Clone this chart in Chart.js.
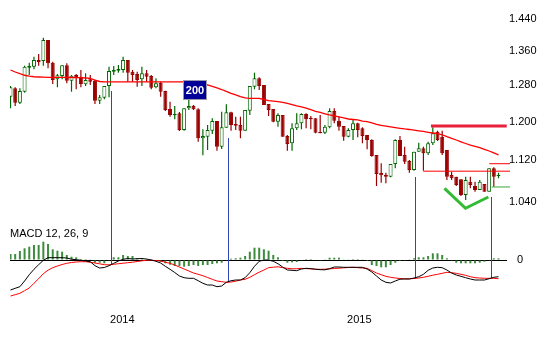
<!DOCTYPE html>
<html><head><meta charset="utf-8">
<script src="https://cdn.jsdelivr.net/npm/chart.js@4.4.1/dist/chart.umd.min.js"></script>
<style>html,body{margin:0;padding:0;background:#fff}canvas{display:block}</style>
</head><body>
<canvas id="c" width="540" height="360"></canvas>
<script>
// ---- data (weekly candles, index 0..104) ----
const open = [1.2546,1.2735,1.2413,1.2658,1.3211,1.3235,1.3393,1.3369,1.3879,1.3329,
 1.2941,1.3017,1.3268,1.2908,1.3040,1.3001,1.2826,1.2941,1.2908,1.2457,
 1.2523,1.2787,1.3117,1.3140,1.3157,1.3393,1.3117,1.3064,1.2941,1.3080,
 1.3017,1.2758,1.2863,1.2674,1.2274,1.2137,1.2180,1.1823,1.2289,1.2340,
 1.2267,1.1650,1.1683,1.1808,1.2014,1.1477,1.1872,1.2202,1.1950,1.1929,
 1.1808,1.2237,1.2771,1.2964,1.2810,1.2384,1.2274,1.1999,1.2144,1.1698,
 1.1547,1.1859,1.1965,1.2165,1.2085,1.2072,1.1781,1.1767,1.1880,1.2230,
 1.2021,1.1908,1.1683,1.1823,1.1965,1.1859,1.1719,1.1614,1.1309,1.0957,
 1.0913,1.0880,1.1129,1.1614,1.1309,1.1188,1.1010,1.1375,1.1444,1.1343,
 1.1547,1.1788,1.1683,1.1409,1.0913,1.0880,1.0829,1.0531,1.0783,1.0701,
 1.0625,1.0739,1.0593,1.1044,1.0893];
const high = [1.2787,1.2758,1.2735,1.3258,1.3329,1.3472,1.3537,1.3936,1.3879,1.3353,
 1.3064,1.3268,1.3315,1.3040,1.3064,1.3157,1.3080,1.3040,1.2924,1.2584,
 1.2787,1.3235,1.3251,1.3275,1.3472,1.3393,1.3157,1.3117,1.3235,1.3157,
 1.3040,1.2964,1.2885,1.2680,1.2435,1.2340,1.2209,1.2289,1.2472,1.2362,
 1.2289,1.1838,1.1929,1.2072,1.2014,1.2215,1.2377,1.2215,1.2107,1.2107,
 1.2252,1.2787,1.3094,1.2987,1.2810,1.2384,1.2274,1.2180,1.2144,1.1719,
 1.1965,1.2180,1.2180,1.2180,1.2122,1.2072,1.2144,1.1929,1.2289,1.2289,
 1.2107,1.1908,1.1859,1.2036,1.1978,1.1880,1.1719,1.1629,1.1309,1.1142,
 1.0957,1.1129,1.1629,1.1698,1.1477,1.1208,1.1375,1.1559,1.1477,1.1579,
 1.1880,1.1808,1.1808,1.1409,1.0977,1.0880,1.0829,1.0880,1.0880,1.0783,
 1.0816,1.0739,1.1044,1.1063,1.0957];
const low = [1.2289,1.2340,1.2384,1.2636,1.3040,1.3173,1.3258,1.3258,1.3197,1.2833,
 1.2758,1.2941,1.2849,1.2658,1.2712,1.2758,1.2787,1.2810,1.2384,1.2384,
 1.2488,1.2532,1.3040,1.3094,1.3094,1.2885,1.2885,1.2771,1.2787,1.2885,
 1.2712,1.2735,1.2546,1.2230,1.2107,1.2051,1.1802,1.1808,1.2252,1.2252,
 1.1579,1.1302,1.1409,1.1740,1.1395,1.1430,1.1872,1.1808,1.1823,1.1650,
 1.1808,1.2144,1.2712,1.2696,1.2362,1.2122,1.1987,1.1893,1.1683,1.1395,
 1.1395,1.1823,1.1838,1.1859,1.1838,1.1754,1.1754,1.1740,1.1859,1.1965,
 1.1808,1.1600,1.1671,1.1614,1.1671,1.1547,1.1424,1.1274,1.0701,1.0764,
 1.0752,1.0868,1.1043,1.1288,1.1129,1.0957,1.0996,1.1375,1.0996,1.1309,
 1.1512,1.1594,1.1309,1.0816,1.0816,1.0701,1.0512,1.0437,1.0657,1.0593,
 1.0625,1.0593,1.0593,1.0688,1.0849];
const close = [1.2758,1.2413,1.2674,1.3235,1.3251,1.3393,1.3346,1.3879,1.3315,1.2924,
 1.3034,1.3268,1.2908,1.3024,1.2987,1.2833,1.2924,1.2885,1.2457,1.2532,
 1.2787,1.3133,1.3157,1.3180,1.3393,1.3094,1.3040,1.2924,1.3080,1.3001,
 1.2749,1.2849,1.2658,1.2252,1.2144,1.2165,1.1823,1.2289,1.2340,1.2267,
 1.1650,1.1698,1.1823,1.2014,1.1477,1.1880,1.2202,1.1929,1.1914,1.1808,
 1.2252,1.2787,1.2964,1.2787,1.2362,1.2252,1.1999,1.2144,1.1683,1.1532,
 1.1859,1.1965,1.2165,1.2051,1.2051,1.1767,1.1754,1.1893,1.2230,1.2021,
 1.1893,1.1683,1.1823,1.1965,1.1823,1.1698,1.1614,1.1288,1.0932,1.0907,
 1.0880,1.1129,1.1614,1.1288,1.1174,1.1010,1.1375,1.1444,1.1343,1.1547,
 1.1754,1.1614,1.1343,1.0880,1.0849,1.0720,1.0531,1.0816,1.0720,1.0625,
 1.0783,1.0593,1.1044,1.0880,1.0913];
const ma200 = [1.3157,1.3110,1.3070,1.3034,1.3013,1.2999,1.2994,1.2990,1.2987,1.2987,
 1.2987,1.2987,1.2982,1.2982,1.2978,1.2978,1.2971,1.2959,1.2924,1.2890,
 1.2879,1.2879,1.2879,1.2879,1.2879,1.2879,1.2879,1.2879,1.2879,1.2879,
 1.2879,1.2879,1.2879,1.2879,1.2879,1.2879,1.2879,1.2879,1.2867,1.2856,
 1.2840,1.2822,1.2810,1.2776,1.2742,1.2707,1.2663,1.2622,1.2584,1.2546,
 1.2517,1.2510,1.2510,1.2506,1.2483,1.2457,1.2446,1.2437,1.2421,1.2399,
 1.2369,1.2340,1.2318,1.2292,1.2259,1.2224,1.2198,1.2170,1.2144,1.2122,
 1.2101,1.2079,1.2057,1.2046,1.2036,1.2010,1.1999,1.1972,1.1940,1.1921,
 1.1904,1.1887,1.1872,1.1859,1.1845,1.1834,1.1819,1.1806,1.1792,1.1775,
 1.1760,1.1746,1.1723,1.1683,1.1650,1.1614,1.1577,1.1542,1.1508,1.1485,
 1.1457,1.1424,1.1389,1.1349,1.1309];
const macd = [-0.0300,-0.0283,-0.0267,-0.0210,-0.0147,-0.0093,-0.0047,-0.0003,0.0023,0.0023,
 0.0023,0.0023,0.0020,0.0008,0.0003,-0.0002,-0.0010,-0.0017,-0.0057,-0.0080,
 -0.0075,-0.0057,-0.0033,-0.0010,0.0007,0.0015,0.0010,0.0013,0.0015,0.0010,
 0.0000,-0.0013,-0.0030,-0.0063,-0.0093,-0.0125,-0.0160,-0.0177,-0.0183,-0.0183,
 -0.0207,-0.0233,-0.0250,-0.0250,-0.0267,-0.0260,-0.0223,-0.0207,-0.0200,-0.0200,
 -0.0177,-0.0127,-0.0063,-0.0013,0.0000,0.0000,-0.0013,-0.0037,-0.0070,-0.0100,
 -0.0103,-0.0107,-0.0090,-0.0083,-0.0087,-0.0092,-0.0097,-0.0098,-0.0087,-0.0070,
 -0.0070,-0.0073,-0.0073,-0.0073,-0.0073,-0.0073,-0.0090,-0.0120,-0.0160,-0.0200,
 -0.0223,-0.0230,-0.0210,-0.0192,-0.0190,-0.0190,-0.0180,-0.0167,-0.0143,-0.0103,
 -0.0080,-0.0073,-0.0077,-0.0100,-0.0130,-0.0150,-0.0163,-0.0177,-0.0190,-0.0200,
 -0.0200,-0.0200,-0.0187,-0.0173,-0.0167];
const signal = [-0.0360,-0.0347,-0.0333,-0.0307,-0.0280,-0.0233,-0.0187,-0.0137,-0.0102,-0.0077,
 -0.0060,-0.0045,-0.0033,-0.0025,-0.0020,-0.0017,-0.0017,-0.0023,-0.0030,-0.0038,
 -0.0047,-0.0048,-0.0043,-0.0037,-0.0032,-0.0027,-0.0022,-0.0015,-0.0008,-0.0003,
 -0.0002,-0.0005,-0.0010,-0.0023,-0.0033,-0.0050,-0.0070,-0.0090,-0.0110,-0.0130,
 -0.0143,-0.0157,-0.0175,-0.0193,-0.0210,-0.0217,-0.0223,-0.0220,-0.0212,-0.0200,
 -0.0193,-0.0173,-0.0147,-0.0122,-0.0100,-0.0077,-0.0072,-0.0068,-0.0077,-0.0083,
 -0.0088,-0.0087,-0.0084,-0.0086,-0.0088,-0.0093,-0.0093,-0.0092,-0.0088,-0.0085,
 -0.0082,-0.0078,-0.0075,-0.0073,-0.0077,-0.0080,-0.0083,-0.0107,-0.0130,-0.0147,
 -0.0163,-0.0173,-0.0180,-0.0185,-0.0188,-0.0188,-0.0185,-0.0180,-0.0173,-0.0163,
 -0.0152,-0.0143,-0.0133,-0.0123,-0.0127,-0.0133,-0.0143,-0.0153,-0.0167,-0.0177,
 -0.0180,-0.0183,-0.0183,-0.0183,-0.0187];
const hist = [0.0060,0.0060,0.0090,0.0117,0.0133,0.0150,0.0150,0.0183,0.0160,0.0107,
 0.0093,0.0083,0.0050,0.0033,0.0027,0.0010,0.0010,0.0007,-0.0027,-0.0027,
 -0.0033,-0.0007,0.0027,0.0027,0.0050,0.0040,0.0040,0.0017,0.0013,0.0010,
 0.0003,-0.0007,-0.0020,-0.0033,-0.0047,-0.0060,-0.0060,-0.0067,-0.0060,-0.0050,
 -0.0060,-0.0050,-0.0050,-0.0040,-0.0033,-0.0027,-0.0007,0.0013,0.0017,0.0023,
 0.0040,0.0083,0.0123,0.0123,0.0107,0.0093,0.0050,0.0027,-0.0010,-0.0027,
 -0.0023,-0.0020,-0.0007,0.0010,0.0010,0.0000,-0.0003,0.0003,0.0023,0.0023,
 0.0023,0.0007,0.0003,0.0010,0.0010,0.0003,-0.0010,-0.0050,-0.0060,-0.0073,
 -0.0073,-0.0050,-0.0027,-0.0010,-0.0003,0.0003,0.0017,0.0027,0.0027,0.0040,
 0.0067,0.0067,0.0050,0.0017,-0.0003,-0.0027,-0.0033,-0.0033,-0.0033,-0.0033,
 -0.0027,-0.0017,-0.0003,0.0017,0.0017];

// axis tick labels
const priceTicks = [1.04, 1.12, 1.20, 1.28, 1.36, 1.44];
const yearLabels = ['2014', '2015'];
const yearPos = [23.83, 74.34];
const priceMin = 0.98940, priceMax = 1.49037;
const macdMin = -0.040, macdMax = 0.030;

// signal markers (blue verticals): index, price start, MACD end
const sigIdx = [21.48, 46.25, 86.25, 102.44];
const sigTop = [1.2674, 1.1662, 1.0868, 1.0499];
const sigEnd = [-0.0050, -0.0223, -0.0190, -0.0183];

// drawn annotations
const resistX = [89.6, 105.75], resistY = [1.1908, 1.1908];
const rangeLoX = [87.97, 106.45], rangeLoY = [1.0987, 1.0987];
const rangeHiX = [102.04, 106.45], rangeHiY = [1.1134, 1.1134];
const greenX = [102.55, 106.45], greenY = [1.0682, 1.0682];
const vX = [92.49, 96.97, 101.83], vY = [1.0657, 1.0284, 1.0493];
const maLabel = '200', maLabelIdx = 39.32, maLabelPrice = 1.2703;
const macdTitle = 'MACD 12, 26, 9';

const FONT = '"Liberation Sans", Arial, sans-serif';
const idx = close.map((_, i) => i);
const up = close.map((c, i) => c >= open[i]);
const pts = (xs, ys) => xs.map((x, i) => ({x, y: ys[i]}));
const noPad = s => { s.paddingTop = 0; s.paddingBottom = 0; s.paddingLeft = 0; s.paddingRight = 0; };

const bg = { id: 'bg', beforeDraw(c) { const g = c.ctx; g.save(); g.fillStyle = '#fff'; g.fillRect(0, 0, c.width, c.height); g.restore(); } };
const overlay = {
  id: 'overlay',
  beforeDatasetsDraw(chart) {
    const {ctx, scales: {x, y, y2}} = chart;
    ctx.save();
    ctx.strokeStyle = '#3344bb'; ctx.lineWidth = 1;
    sigIdx.forEach((v, k) => {
      const px = Math.round(x.getPixelForValue(v)) + 0.5;
      ctx.beginPath();
      ctx.moveTo(px, Math.round(y.getPixelForValue(sigTop[k])));
      ctx.lineTo(px, Math.round(y2.getPixelForValue(sigEnd[k])));
      ctx.stroke();
    });
    ctx.restore();
  },
  afterDatasetsDraw(chart) {
    const {ctx, scales: {x, y, y2}} = chart;
    ctx.save();
    const cx = Math.round(x.getPixelForValue(maLabelIdx)), cy = Math.round(y.getPixelForValue(maLabelPrice));
    ctx.fillStyle = '#000099';
    ctx.fillRect(cx - 11.5, cy - 9.5, 23, 19);
    ctx.strokeStyle = '#9a9aa8'; ctx.lineWidth = 1;
    ctx.strokeRect(cx - 11.5, cy - 9.5, 23, 19);
    ctx.fillStyle = '#fff'; ctx.font = 'bold 11px ' + FONT;
    ctx.textAlign = 'center'; ctx.textBaseline = 'middle';
    ctx.fillText(maLabel, cx, cy + 0.5);
    ctx.fillStyle = '#000'; ctx.font = '11px ' + FONT; ctx.textAlign = 'left';
    ctx.fillText(macdTitle, chart.chartArea.left, y2.top + 3.5);
    ctx.restore();
  }
};

new Chart(document.getElementById('c'), {
  type: 'bar',
  data: {
    datasets: [
      {type: 'line', label: 'MA 200', data: pts(idx, ma200), yAxisID: 'y', borderColor: '#ff0000', borderWidth: 1.3, pointRadius: 0, order: 0},
      {type: 'line', label: 'Resistance', data: pts(resistX, resistY), yAxisID: 'y', borderColor: '#e8203a', borderWidth: 3, pointRadius: 0, order: 0, clip: false},
      {type: 'line', label: 'Range low', data: pts(rangeLoX, rangeLoY), yAxisID: 'y', borderColor: '#ff0000', borderWidth: 1, pointRadius: 0, order: 0, clip: false},
      {type: 'line', label: 'Range high', data: pts(rangeHiX, rangeHiY), yAxisID: 'y', borderColor: '#ff0000', borderWidth: 1, pointRadius: 0, order: 0, clip: false},
      {type: 'line', label: 'Support', data: pts(greenX, greenY), yAxisID: 'y', borderColor: '#33aa33', borderWidth: 1, pointRadius: 0, order: 0, clip: false},
      {type: 'line', label: 'V', data: pts(vX, vY), yAxisID: 'y', borderColor: '#33bb33', borderWidth: 3, pointRadius: 0, order: 0},
      {type: 'line', label: 'MACD', data: pts(idx, macd), yAxisID: 'y2', borderColor: '#000', borderWidth: 1, pointRadius: 0, order: 0},
      {type: 'line', label: 'Signal', data: pts(idx, signal), yAxisID: 'y2', borderColor: '#ff0000', borderWidth: 1, pointRadius: 0, order: 0},
      {type: 'bar', label: 'Body', data: idx.map(i => ({x: i, y: [open[i], close[i]]})), yAxisID: 'y',
        backgroundColor: up.map(u => u ? '#ffffff' : '#990000'), borderColor: up.map(u => u ? '#006600' : '#990000'),
        borderWidth: 1, borderSkipped: false, barThickness: 4, grouped: false, order: 1, inflateAmount: 0},
      {type: 'bar', label: 'Wick', data: idx.map(i => ({x: i, y: [low[i], high[i]]})), yAxisID: 'y',
        backgroundColor: up.map(u => u ? '#006600' : '#990000'), barThickness: 1.2, grouped: false, order: 2, inflateAmount: 0},
      {type: 'bar', label: 'Histogram', data: pts(idx, hist), yAxisID: 'y2', backgroundColor: '#3d8b3d',
        barThickness: 2, grouped: false, order: 3, inflateAmount: 0}
    ]
  },
  options: {
    responsive: false, animation: false, devicePixelRatio: 1,
    layout: {padding: {left: 10, right: 0, top: 0, bottom: 0}},
    plugins: {legend: {display: false}, tooltip: {enabled: false}},
    scales: {
      x: {type: 'linear', min: -0.1066, max: 105.81, offset: false, bounds: 'data',
        grid: {display: false, drawTicks: false}, border: {display: false},
        afterBuildTicks: s => { s.ticks = yearPos.map(v => ({value: v})); },
        afterFit: s => { s.height = 60; noPad(s); },
        ticks: {autoSkip: false, maxRotation: 0, padding: 13.4, color: '#000', font: {family: FONT, size: 11},
          callback: (v, i) => yearLabels[i]}},
      y: {type: 'logarithmic', position: 'right', stack: 'panes', stackWeight: 230, min: priceMin, max: priceMax, bounds: 'data',
        grid: {display: false, drawTicks: false}, border: {display: false},
        afterBuildTicks: s => { s.ticks = priceTicks.map(v => ({value: v})); },
        afterFit: s => { s.width = 33; noPad(s); },
        ticks: {padding: 2, color: '#000', font: {family: FONT, size: 11}, callback: v => Number(v).toFixed(3)}},
      y2: {type: 'linear', position: 'right', stack: 'panes', stackWeight: 70, min: macdMin, max: macdMax, bounds: 'data',
        grid: {display: true, color: '#000', lineWidth: 1, drawTicks: false}, border: {display: false},
        afterBuildTicks: s => { s.ticks = [{value: 0}]; },
        afterFit: s => { s.width = 33; noPad(s); },
        ticks: {padding: 10, color: '#000', font: {family: FONT, size: 11}, callback: () => '0'}}
    }
  },
  plugins: [bg, overlay]
});
</script>
</body></html>
